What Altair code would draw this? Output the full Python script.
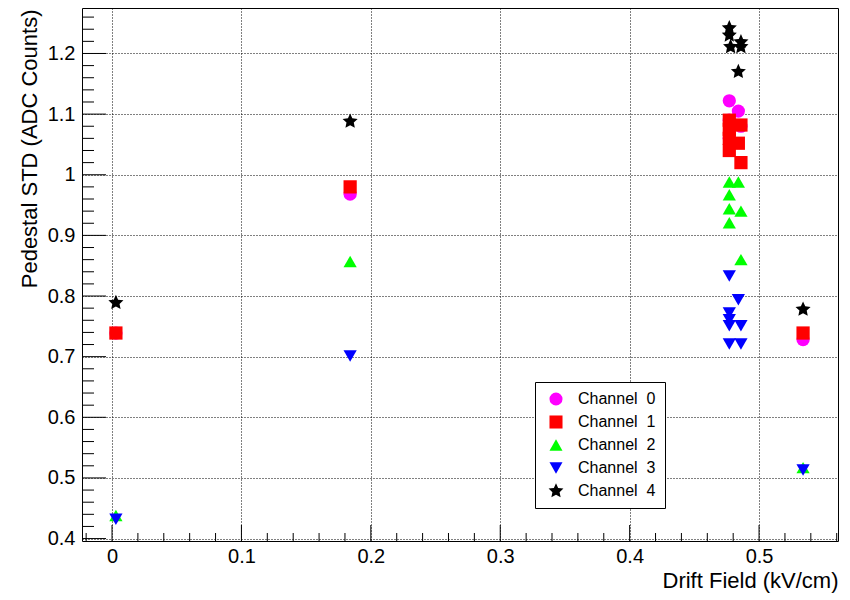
import altair as alt
import pandas as pd

channels = ["Channel 0", "Channel 1", "Channel 2", "Channel 3", "Channel 4"]
colors = ["#ff00ff", "#ff0000", "#00ff00", "#0000ff", "#000000"]
STAR = ("M0,-1.2L0.33,-0.46L1.14,-0.37L0.55,0.18L0.71,0.97L0,0.58"
        "L-0.71,0.97L-0.55,0.18L-1.14,-0.37L-0.33,-0.46Z")
shapes = ["circle", "square", "triangle-up", "triangle-down", STAR]

ch0_x = [0.003, 0.184, 0.477, 0.484, 0.477, 0.486, 0.477, 0.534]
ch0_y = [0.739, 0.968, 1.122, 1.105, 1.090, 1.080, 1.060, 0.728]

ch1_x = [0.003, 0.184, 0.477, 0.477, 0.477, 0.477, 0.486, 0.484, 0.486, 0.534]
ch1_y = [0.739, 0.980, 1.090, 1.075, 1.060, 1.040, 1.082, 1.052, 1.020, 0.739]

ch2_x = [0.003, 0.184, 0.477, 0.484, 0.477, 0.477, 0.486, 0.477, 0.486, 0.534]
ch2_y = [0.438, 0.857, 0.988, 0.988, 0.967, 0.944, 0.940, 0.921, 0.860, 0.517]

ch3_x = [0.003, 0.184, 0.477, 0.484, 0.477, 0.477, 0.477, 0.486, 0.477, 0.486, 0.534]
ch3_y = [0.432, 0.701, 0.833, 0.794, 0.772, 0.761, 0.751, 0.751, 0.721, 0.721, 0.513]

ch4_x = [0.003, 0.184, 0.477, 0.477, 0.478, 0.486, 0.486, 0.484, 0.534]
ch4_y = [0.789, 1.088, 1.242, 1.230, 1.211, 1.219, 1.211, 1.170, 0.778]

x_major = [0, 0.1, 0.2, 0.3, 0.4, 0.5]
x_minor = [-0.02, 0.02, 0.04, 0.06, 0.08, 0.12, 0.14, 0.16, 0.18, 0.22, 0.24, 0.26,
           0.28, 0.32, 0.34, 0.36, 0.38, 0.42, 0.44, 0.46, 0.48, 0.52, 0.54, 0.56]
y_major = [0.4, 0.5, 0.6, 0.7, 0.8, 0.9, 1.0, 1.1, 1.2]
y_minor = [0.42, 0.44, 0.46, 0.48, 0.52, 0.54, 0.56, 0.58, 0.62, 0.64, 0.66, 0.68,
           0.72, 0.74, 0.76, 0.78, 0.82, 0.84, 0.86, 0.88, 0.92, 0.94, 0.96, 0.98,
           1.02, 1.04, 1.06, 1.08, 1.12, 1.14, 1.16, 1.18, 1.22, 1.24, 1.26]

xs = [ch0_x, ch1_x, ch2_x, ch3_x, ch4_x]
ys = [ch0_y, ch1_y, ch2_y, ch3_y, ch4_y]
rows = []
for i, name in enumerate(channels):
    for xv, yv in zip(xs[i], ys[i]):
        rows.append({"field": xv, "std": yv, "channel": name, "order": i})
df = pd.DataFrame(rows)

W, H = 756, 533
FONT = "Liberation Sans"
xscale = alt.Scale(domain=[-0.0232, 0.561], nice=False, zero=False)
yscale = alt.Scale(domain=[0.396, 1.275], nice=False, zero=False)

x_axis = alt.Axis(values=x_major, format="~g", grid=True, gridDash=[1, 2],
                  gridColor="#000000", gridOpacity=1, ticks=False, domain=False,
                  labelFont=FONT, labelFontSize=20, labelColor="#000000",
                  labelPadding=5, labelFlush=False,
                  title="Drift Field (kV/cm)", titleFont=FONT, titleFontSize=22,
                  titleFontWeight="normal", titleColor="#000000",
                  titleX=W, titleY=46, titleAlign="right", titleBaseline="alphabetic")
y_axis = alt.Axis(values=y_major, format="~g", grid=True, gridDash=[1, 2],
                  gridColor="#000000", gridOpacity=1, ticks=False, domain=False,
                  labelFont=FONT, labelFontSize=20, labelColor="#000000",
                  labelPadding=7, labelFlush=False,
                  title="Pedestal STD (ADC Counts)", titleFont=FONT, titleFontSize=22,
                  titleFontWeight="normal", titleColor="#000000",
                  titleAngle=270, titleX=-53, titleY=1, titleAlign="right",
                  titleBaseline="middle")

def tick_df(vals):
    return pd.DataFrame({"v": vals})

y_major_ticks = alt.Chart(tick_df(y_major)).mark_rule(color="#000000", strokeWidth=1).encode(
    y=alt.Y("v:Q", scale=yscale, axis=y_axis), x=alt.value(0), x2=alt.value(24))
y_minor_ticks = alt.Chart(tick_df(y_minor)).mark_rule(color="#000000", strokeWidth=1).encode(
    y=alt.Y("v:Q", scale=yscale, axis=y_axis), x=alt.value(0), x2=alt.value(12))
x_major_ticks = alt.Chart(tick_df(x_major)).mark_rule(color="#000000", strokeWidth=1).encode(
    x=alt.X("v:Q", scale=xscale, axis=x_axis), y=alt.value(H), y2=alt.value(H - 16))
x_minor_ticks = alt.Chart(tick_df(x_minor)).mark_rule(color="#000000", strokeWidth=1).encode(
    x=alt.X("v:Q", scale=xscale, axis=x_axis), y=alt.value(H), y2=alt.value(H - 8))

legend = alt.Legend(title=None, orient="none", legendX=453, legendY=374,
                    direction="vertical", fillColor="#ffffff", strokeColor="#000000",
                    padding=9, symbolOffset=4, labelOffset=14, rowPadding=7,
                    labelFont=FONT, labelFontSize=16, labelColor="#000000",
                    symbolSize=170, symbolStrokeWidth=0, cornerRadius=0,
                    labelExpr="replace(datum.label, ' ', '\u00a0\u00a0')")

points = alt.Chart(df).mark_point(filled=True, size=175, opacity=1).encode(
    x=alt.X("field:Q", scale=xscale, axis=x_axis),
    y=alt.Y("std:Q", scale=yscale, axis=y_axis),
    color=alt.Color("channel:N", scale=alt.Scale(domain=channels, range=colors), legend=legend),
    shape=alt.Shape("channel:N", scale=alt.Scale(domain=channels, range=shapes), legend=legend),
    order=alt.Order("order:Q"),
)

chart = alt.layer(y_major_ticks, y_minor_ticks, x_major_ticks, x_minor_ticks, points).properties(
    width=W, height=H,
    autosize=alt.AutoSizeParams(type="none"),
    padding={"left": 74, "top": 0, "right": 4, "bottom": 56},
    background="#ffffff",
).configure_view(stroke="#000000", strokeWidth=1)

chart.save("out.html", embed_options={"renderer": "svg", "actions": False})
